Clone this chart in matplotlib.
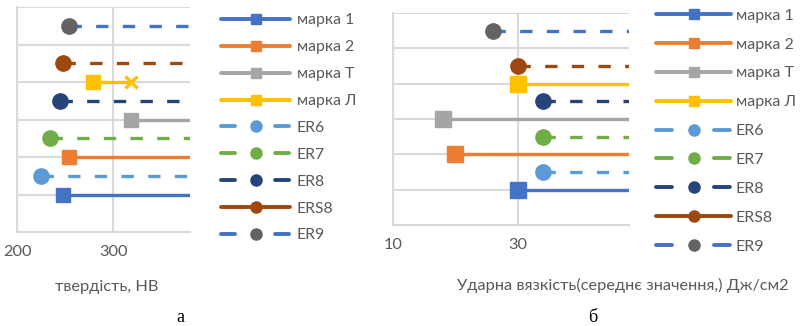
import matplotlib
matplotlib.use("Agg")
import matplotlib.pyplot as plt
from matplotlib.lines import Line2D

plt.rcParams['font.family'] = ['Lato', 'DejaVu Sans']

# ---------------- data ----------------
series = ["марка 1", "марка 2", "марка T", "марка Л", "ER6", "ER7", "ER8", "ERS8", "ER9"]
y_pos = [1.0, 2.0, 3.0, 4.0, 1.5, 2.5, 3.5, 4.5, 5.5]

hardness_start = [248, 254, 319, 279, 225, 234, 245, 248, 254]
hardness_end = [420, 420, 420, 319, 420, 420, 420, 420, 420]

impact_start = [30, 20, 18, 30, 34, 34, 34, 30, 26]
impact_end = [60, 60, 60, 60, 60, 60, 60, 60, 60]

hardness_ticks = [200, 300]
impact_ticks = [10, 30]

# ---------------- styles ----------------
line_colors = ["#4472C4", "#ED7D31", "#A5A5A5", "#FFC000", "#5B9BD5", "#70AD47", "#264478", "#9E480E", "#4472C4"]
marker_colors = ["#4472C4", "#ED7D31", "#A5A5A5", "#FFC000", "#5B9BD5", "#70AD47", "#264478", "#9E480E", "#636363"]
markers = ["s", "s", "s", "s", "o", "o", "o", "o", "o"]
dashed = [False, False, False, False, True, True, True, True, True]
legend_dashed = [False, False, False, False, True, True, True, False, True]
end_marker_a = [None, None, None, "x", None, None, None, None, None]

GRID = "#D9D9D9"
TXT = "#595959"

fig = plt.figure(figsize=(8.01, 3.26), dpi=100)
ax_a = fig.add_axes([0.0212, 0.2883, 0.216, 0.690])
ax_b = fig.add_axes([0.4906, 0.3098, 0.2946, 0.650])


def draw(ax, starts, ends, endm, xlim, ticks, sq, ci):
    for i in range(len(series)):
        ls = (0, (3.7, 4.3)) if dashed[i] else "-"
        ax.plot([starts[i], ends[i]], [y_pos[i], y_pos[i]], color=line_colors[i],
                lw=2.4, ls=ls, solid_capstyle="butt", dash_capstyle="butt", zorder=3)
        ms = sq if markers[i] == "s" else ci
        ax.plot([starts[i]], [y_pos[i]], marker=markers[i], ms=ms, color=marker_colors[i],
                mec=marker_colors[i], ls="none", zorder=4)
        if endm is not None and endm[i]:
            ax.plot([ends[i]], [y_pos[i]], marker=endm[i], ms=9, mew=2.4,
                    color=line_colors[i], ls="none", zorder=4)
    ax.set_xlim(*xlim)
    ax.set_ylim(0, 6)
    ax.set_xticks(ticks)
    ax.set_yticks(range(0, 7))
    ax.set_yticklabels([])
    ax.grid(True, color=GRID, lw=1.5, zorder=0)
    ax.set_axisbelow(True)
    for s in ["top", "right"]:
        ax.spines[s].set_visible(False)
    for s in ["left", "bottom"]:
        ax.spines[s].set_color(GRID)
        ax.spines[s].set_linewidth(1.5)
    ax.tick_params(length=0, labelsize=11.8, labelcolor=TXT, pad=9)


draw(ax_a, hardness_start, hardness_end, end_marker_a, (200, 380), hardness_ticks, 10.5, 11)
draw(ax_b, impact_start, impact_end, None, (10, 47.8), impact_ticks, 11.5, 11)

ax_a.set_xlabel("твердість, HB", fontsize=11.8, color=TXT)
ax_b.set_xlabel("Ударна вязкість(середнє значення,) Дж/см2", fontsize=11.8, color=TXT)
ax_a.xaxis.set_label_coords(0.52, -0.215)
ax_b.xaxis.set_label_coords(0.975, -0.25)


def handles(on, off):
    hs = []
    for i in range(len(series)):
        ls = (0, (on, off)) if legend_dashed[i] else "-"
        ms = 7.5 if markers[i] == "s" else 8
        hs.append(Line2D([0], [0], color=line_colors[i], lw=2.8, ls=ls, marker=markers[i],
                         ms=ms, mfc=marker_colors[i], mec=marker_colors[i],
                         solid_capstyle="round", dash_capstyle="round"))
    return hs


leg_a = fig.legend(handles(3.6, 10.3), series, loc="upper left", bbox_to_anchor=(0.2585, 1.002),
                   frameon=False, fontsize=11.3, handlelength=4.4, handletextpad=0.4,
                   labelspacing=0.82, labelcolor=TXT)
leg_b = fig.legend(handles(4.1, 10.8), series, loc="upper left", bbox_to_anchor=(0.801, 1.018),
                   frameon=False, fontsize=11.5, handlelength=4.7, handletextpad=0.3,
                   labelspacing=0.92, labelcolor=TXT)

fig.text(180 / 801, 1 - 318 / 326, "а", family="Liberation Serif", fontsize=13,
         ha="center", va="center", color="black")
fig.text(593 / 801, 1 - 318 / 326, "б", family="Liberation Serif", fontsize=13,
         ha="center", va="center", color="black")

fig.savefig("out.png", dpi=100)
